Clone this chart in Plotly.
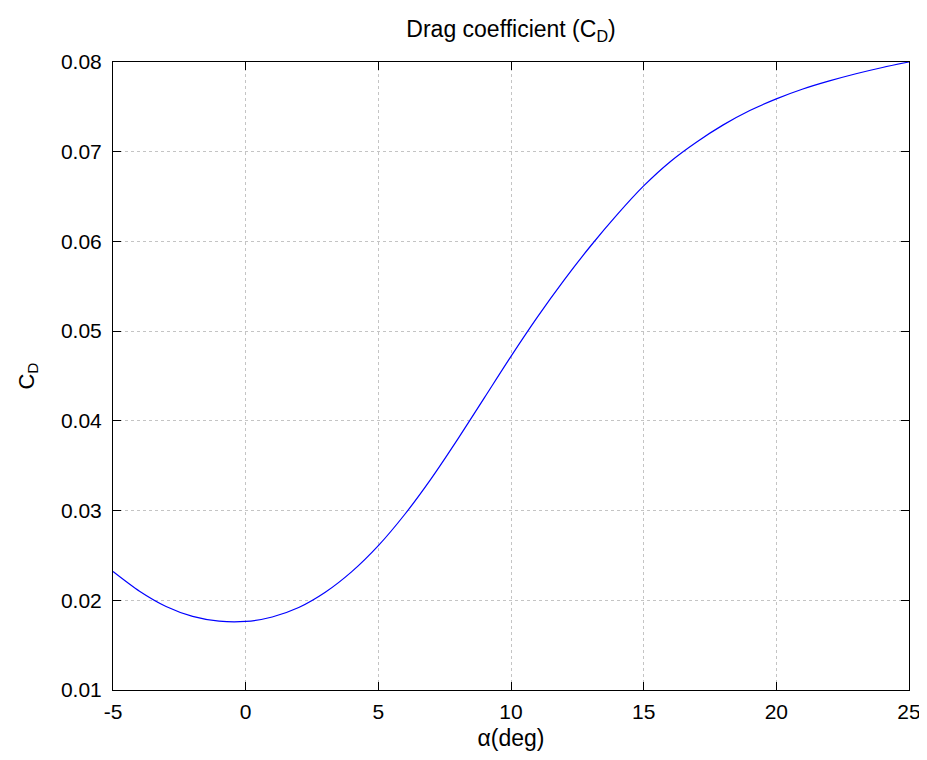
import plotly.graph_objects as go

alpha_deg = [-5, -4, -3, -2, -1, 0, 1, 2, 3, 4, 5, 6, 7, 8, 9, 10, 11, 12,
             13, 14, 15, 16, 17, 18, 19, 20, 21, 22, 23, 24, 25]
cd_values = [0.0232, 0.0210, 0.0193, 0.0182, 0.01767, 0.01764, 0.01814, 0.01919,
             0.02089, 0.02319, 0.02609, 0.02959, 0.03359, 0.03799, 0.04259, 0.04719,
             0.05159, 0.05569, 0.05949, 0.06299, 0.06619, 0.06889, 0.07109, 0.07299,
             0.07459, 0.07589, 0.07699, 0.07789, 0.07869, 0.07939, 0.0800]

x_ticks = [-5, 0, 5, 10, 15, 20, 25]
y_ticks = [0.01, 0.02, 0.03, 0.04, 0.05, 0.06, 0.07, 0.08]

FONT = "Liberation Sans, Arial, Helvetica, sans-serif"

fig = go.Figure()
fig.add_trace(go.Scatter(
    x=alpha_deg, y=cd_values, mode="lines",
    line=dict(color="#0000ff", width=1.2, shape="spline", smoothing=0.8),
    showlegend=False, hoverinfo="x+y",
))

axis_common = dict(
    showline=True, linecolor="black", linewidth=1, mirror="ticks",
    ticks="inside", ticklen=8, tickwidth=1, tickcolor="black",
    showgrid=True, gridcolor="#c4c4c4", griddash="dot", gridwidth=1,
    zeroline=False, automargin=False,
    tickfont=dict(family=FONT, size=21, color="black"),
)

fig.update_xaxes(
    range=[-5, 25], tickvals=x_ticks, ticktext=[str(v) for v in x_ticks],
    title=dict(text="α(deg)", font=dict(family=FONT, size=23, color="black"), standoff=7),
    ticklabelstandoff=3,
    **axis_common,
)
fig.update_yaxes(
    range=[0.01, 0.08], tickvals=y_ticks, ticktext=[f"{v:.2f}" for v in y_ticks],
    title=dict(text="C<sub>D</sub>", font=dict(family=FONT, size=22, color="black"), standoff=20),
    ticklabelstandoff=6,
    **axis_common,
)

fig.update_layout(
    width=919, height=752,
    margin=dict(l=105, r=18, t=54, b=70, autoexpand=False),
    paper_bgcolor="white", plot_bgcolor="white",
    font=dict(family=FONT, size=21, color="black"),
    title=dict(text="Drag coefficient (C<sub>D</sub>)", x=0.5, xref="paper", xanchor="center",
               y=0.972, yref="container", yanchor="middle", automargin=False,
               font=dict(family=FONT, size=23, color="black")),
)

fig.write_html("out.html")
